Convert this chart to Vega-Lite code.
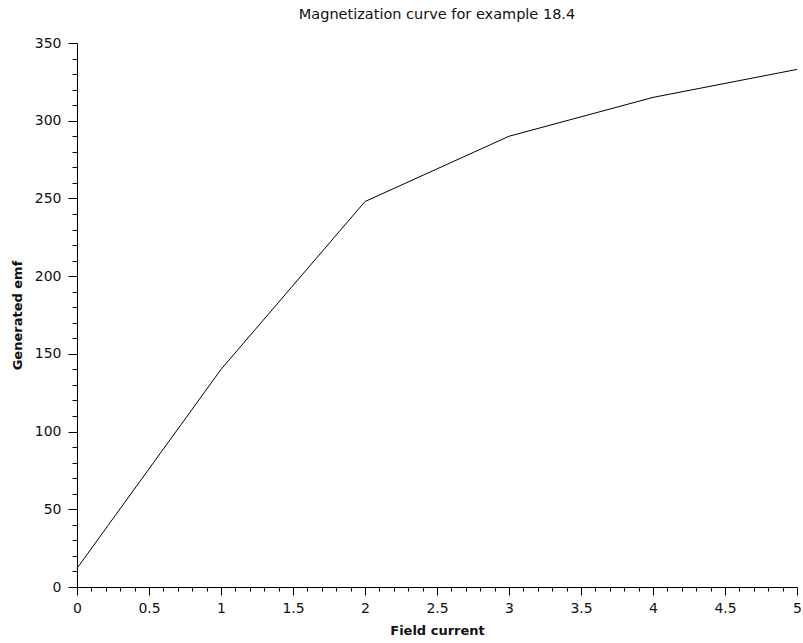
{
  "$schema": "https://vega.github.io/schema/vega-lite/v6.json",
  "width": 720,
  "height": 544,
  "autosize": {"type": "none"},
  "padding": {"left": 77, "top": 43, "right": 6, "bottom": 56},
  "background": "white",
  "title": {
    "text": "Magnetization curve for example 18.4",
    "font": "DejaVu Sans",
    "fontSize": 14.5,
    "fontWeight": "normal",
    "color": "#111",
    "anchor": "middle",
    "frame": "group",
    "offset": 14
  },
  "config": {
    "view": {"stroke": null},
    "axis": {
      "grid": false,
      "domainColor": "black",
      "tickColor": "black",
      "domainWidth": 1,
      "tickWidth": 1,
      "labelFont": "DejaVu Sans",
      "labelFontSize": 14,
      "labelColor": "#111",
      "titleFont": "DejaVu Sans",
      "titleFontSize": 13,
      "titleFontWeight": "bold",
      "titleColor": "#111",
      "labelOverlap": false,
      "labelFlush": false
    }
  },
  "data": {
    "values": [
      {"field_current": 0, "emf": 12},
      {"field_current": 1, "emf": 140},
      {"field_current": 2, "emf": 248},
      {"field_current": 3, "emf": 290},
      {"field_current": 4, "emf": 315},
      {"field_current": 5, "emf": 333}
    ]
  },
  "mark": {"type": "line", "color": "black", "strokeWidth": 1},
  "encoding": {
    "x": {
      "field": "field_current",
      "type": "quantitative",
      "scale": {"domain": [0, 5], "nice": false, "zero": false},
      "axis": {
        "title": "Field current",
        "format": "~g",
        "values": [0,0.1,0.2,0.3,0.4,0.5,0.6,0.7,0.8,0.9,1,1.1,1.2,1.3,1.4,1.5,1.6,1.7,1.8,1.9,2,2.1,2.2,2.3,2.4,2.5,2.6,2.7,2.8,2.9,3,3.1,3.2,3.3,3.4,3.5,3.6,3.7,3.8,3.9,4,4.1,4.2,4.3,4.4,4.5,4.6,4.7,4.8,4.9,5],
        "labelExpr": "abs(datum.value*2 - round(datum.value*2)) < 1e-6 ? datum.label : ''",
        "tickSize": {"condition": {"test": "abs(datum.value*2 - round(datum.value*2)) < 1e-6", "value": 8}, "value": 4},
        "labelPadding": 6,
        "titlePadding": 9
      }
    },
    "y": {
      "field": "emf",
      "type": "quantitative",
      "scale": {"domain": [0, 350], "nice": false},
      "axis": {
        "title": "Generated emf",
        "values": [0,10,20,30,40,50,60,70,80,90,100,110,120,130,140,150,160,170,180,190,200,210,220,230,240,250,260,270,280,290,300,310,320,330,340,350],
        "labelExpr": "datum.value % 50 == 0 ? datum.label : ''",
        "tickSize": {"condition": {"test": "datum.value % 50 == 0", "value": 9}, "value": 5},
        "labelPadding": 7,
        "titlePadding": 10
      }
    }
  }
}
